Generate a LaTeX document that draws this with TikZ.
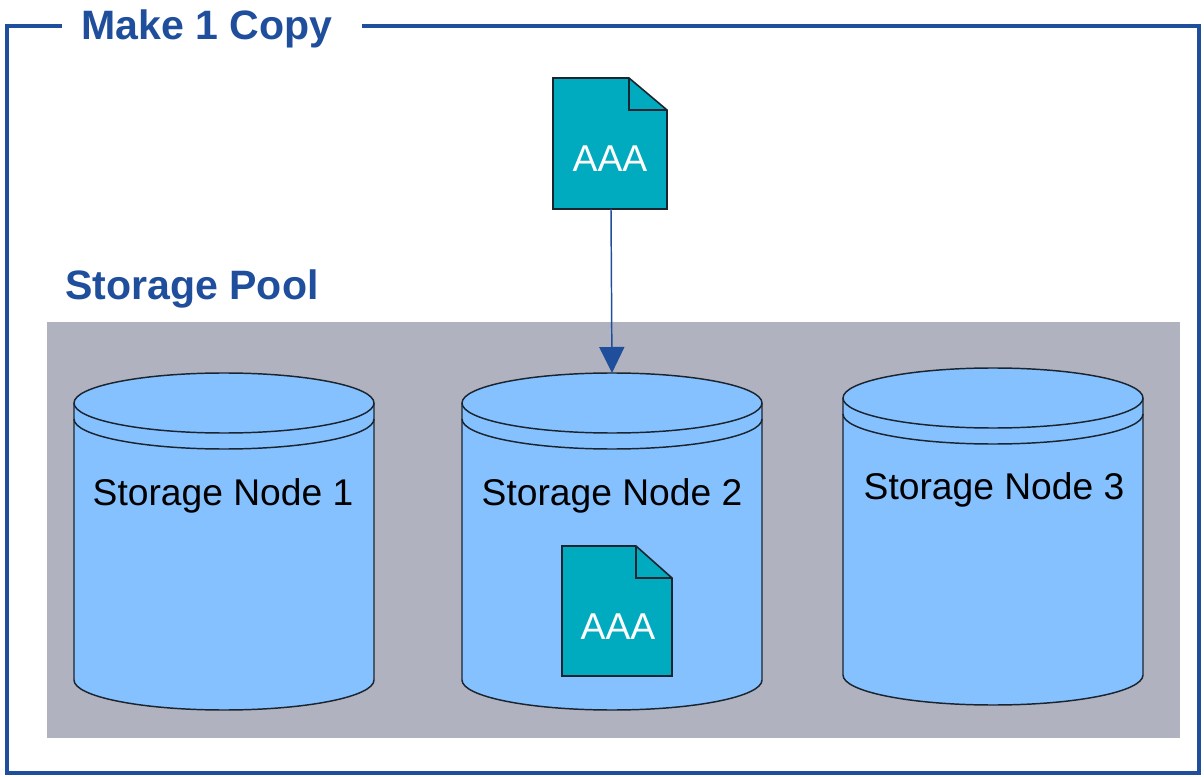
\documentclass[tikz,border=0pt]{standalone}
\usepackage{fontspec}
\setmainfont{Liberation Sans}
\usetikzlibrary{arrows.meta}
\definecolor{frameblue}{HTML}{1F4E9C}
\definecolor{poolgrey}{HTML}{B0B2BF}
\definecolor{cylblue}{HTML}{86C1FF}
\definecolor{docteal}{HTML}{00ABBF}
\definecolor{edgedark}{HTML}{1A2530}
\tikzset{
  x=0.75pt,y=-0.75pt,
  heading/.style={font=\bfseries\fontsize{30.8}{34}\selectfont,text=frameblue,inner sep=0pt,anchor=base west},
  nodelabel/.style={font=\fontsize{27.9}{32}\selectfont,text=black,inner sep=0pt,anchor=base},
  doclabel/.style={font=\fontsize{28}{32}\selectfont,text=white,inner sep=0pt,anchor=base},
  cylshape/.style={fill=cylblue,draw=edgedark,line width=1.1pt},
  docshape/.style={fill=docteal,draw=edgedark,line width=1.2pt,line join=miter},
}
\newcommand{\cylinderat}[3]{% left x, top y, name
  \coordinate (#3top) at (#1+150,#2);
  \path[cylshape] (#1,#2+30) arc[x radius=150,y radius=30,start angle=180,end angle=360]
    -- (#1+300,#2+307) arc[x radius=150,y radius=30,start angle=0,end angle=180] -- cycle;
  \draw[cylshape,fill=none] (#1,#2+30) arc[x radius=150,y radius=30,start angle=180,end angle=0];
  \draw[cylshape,fill=none] (#1,#2+46) arc[x radius=150,y radius=30,start angle=180,end angle=0];
}
\newcommand{\docat}[6]{% left, top, right, bottom, foldx, foldy
  \path[docshape] (#1,#2) -- (#5,#2) -- (#3,#6) -- (#3,#4) -- (#1,#4) -- cycle;
  \draw[docshape,fill=none] (#5,#2) -- (#5,#6) -- (#3,#6);
}
\begin{document}
\begin{tikzpicture}
\useasboundingbox (0,0) rectangle (1204,777);
\fill[white] (0,0) rectangle (1204,777);
% frame
\coordinate (fa) at (62,26);
\coordinate (fb) at (7,26);
\coordinate (fc) at (7,773);
\coordinate (fd) at (1199,773);
\coordinate (fe) at (1199,26);
\coordinate (ff) at (362,26);
\draw[frameblue,line width=2.4pt,line join=miter] (fa) -- (fb) -- (fc) -- (fd) -- (fe) -- (ff);
\node[heading] (title) at (81,40) {Make 1 Copy};
\node[heading] (pooltitle) at (65,300) {Storage Pool};
% pool
\fill[poolgrey] (47,322) rectangle (1180,738);
% cylinders
\cylinderat{74}{373}{cyla}
\cylinderat{462}{373}{cylb}
\cylinderat{843}{368}{cylc}
\node[nodelabel] (la) at (223,505) {Storage Node 1};
\node[nodelabel] (lb) at (612,505) {Storage Node 2};
\node[nodelabel] (lc) at (994,499) {Storage Node 3};
% documents
\docat{553}{78}{667}{209}{629}{110}
\node[doclabel] (docatext) at (610,172) {AAA};
\docat{562}{546}{672}{676}{636}{578}
\node[doclabel] (docbtext) at (618,639) {AAA};
\coordinate (docabottom) at (611,209);
% connector
\draw[frameblue,line width=1.1pt,-{Triangle[width=18.75pt,length=19.5pt]}] (docabottom) -- (cylbtop);
\end{tikzpicture}
\end{document}
